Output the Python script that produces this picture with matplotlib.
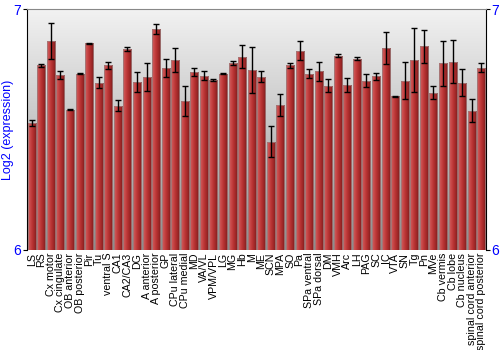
import matplotlib
matplotlib.use("Agg")
import matplotlib.pyplot as plt
import numpy as np
from matplotlib.colors import LinearSegmentedColormap

plt.rcParams["font.family"] = ["Liberation Sans", "DejaVu Sans"]

categories = ["LS", "RS", "Cx motor", "Cx cingulate", "OB anterior", "OB posterior", "Pir", "Tu",
              "ventral S", "CA1", "CA2/CA3", "DG", "A anterior", "A posterior", "GP", "CPu lateral",
              "CPu medial", "MD", "VA/VL", "VPM/VPL", "LG", "MG", "Hb", "M", "ME", "SCN", "MPA", "SO",
              "Pa", "SPa ventral", "SPa dorsal", "DM", "VMH", "Arc", "LH", "PAG", "SC", "IC", "VTA",
              "SN", "Tg", "Pn", "MVe", "Cb vermis", "Cb lobe", "Cb nucleus",
              "spinal cord anterior", "spinal cord posterior"]
values = [6.528, 6.767, 6.868, 6.726, 6.583, 6.733, 6.860, 6.696,
          6.767, 6.600, 6.836, 6.699, 6.719, 6.919, 6.756, 6.788,
          6.618, 6.740, 6.725, 6.706, 6.733, 6.778, 6.803, 6.747, 6.721, 6.450, 6.604, 6.767,
          6.828, 6.733, 6.743, 6.683, 6.808, 6.685, 6.796, 6.704, 6.722, 6.840, 6.638,
          6.704, 6.788, 6.846, 6.654, 6.776, 6.783, 6.696,
          6.579, 6.758]
errors = [0.011, 0.008, 0.075, 0.017, 0.003, 0.003, 0.002, 0.024,
          0.014, 0.023, 0.007, 0.041, 0.058, 0.021, 0.038, 0.050,
          0.062, 0.017, 0.017, 0.005, 0.002, 0.007, 0.048, 0.096, 0.022, 0.064, 0.046, 0.010,
          0.039, 0.019, 0.039, 0.026, 0.006, 0.028, 0.008, 0.026, 0.014, 0.066, 0.003,
          0.077, 0.133, 0.069, 0.027, 0.094, 0.088, 0.056,
          0.048, 0.019]
y_ticks = [6, 7]
y_label = "Log2 (expression)"

fig = plt.figure(figsize=(5, 3.5), dpi=100)
ax = fig.add_axes([0.054, 0.286, 0.918, 0.687])
ymin, ymax = 6, 7
n = len(categories)
x = np.arange(n)
ax.set_xlim(-0.5, n - 0.5)
ax.set_ylim(ymin, ymax)

# background gradient
bg = LinearSegmentedColormap.from_list("bg", ["#8c8c8c", "#c4c4c4", "#f2f2f2"])
grad = np.linspace(0, 1, 256).reshape(-1, 1)
ax.imshow(grad, aspect="auto", cmap=bg, origin="lower",
          extent=(-0.5, n - 0.5, ymin, ymax), zorder=0)

# bars with cylindrical gradient
barcmap = LinearSegmentedColormap.from_list(
    "bar", ["#cf6262", "#c84848", "#b83333", "#9e2828", "#7a1c1c"])
hgrad = np.linspace(0, 1, 64).reshape(1, -1)
width = 0.84
bars = ax.bar(x, [v - ymin for v in values], bottom=ymin, width=width,
              color="#b03030", edgecolor="#8a8a8a", linewidth=0.6, zorder=2)
for b in bars:
    x0, y0 = b.get_x(), b.get_y()
    w, h = b.get_width(), b.get_height()
    im = ax.imshow(hgrad, aspect="auto", cmap=barcmap,
                   extent=(x0, x0 + w, y0, y0 + h), zorder=2.5)
    im.set_clip_path(b)
for b in bars:
    r = plt.Rectangle((b.get_x(), b.get_y()), b.get_width(), b.get_height(),
                      fill=False, edgecolor="#a07a7a", linewidth=0.6, zorder=2.6)
    ax.add_patch(r)

ax.errorbar(x, values, yerr=errors, fmt="none", ecolor="black",
            elinewidth=1.0, capsize=2.2, capthick=1.0, zorder=3)
ax.set_xlim(-0.5, n - 0.5)
ax.set_ylim(ymin, ymax)

ax.set_xticks(x)
ax.set_xticklabels(categories, rotation=90, fontsize=7.7)
ax.tick_params(axis="x", length=0, pad=2)
ax.set_yticks(y_ticks)
ax.set_yticklabels([str(t) for t in y_ticks], color="blue", fontsize=10)
ax.tick_params(axis="y", length=3, color="black", pad=1, right=True, labelright=True)
fig.text(0.016, 0.629, y_label, color="blue", fontsize=9, rotation=90,
         ha="center", va="center")

ax.spines["bottom"].set_visible(False)
ax.spines["top"].set_color("#888888")
ax.spines["left"].set_color("black")
ax.spines["right"].set_color("black")

fig.savefig("out.png", dpi=100)
